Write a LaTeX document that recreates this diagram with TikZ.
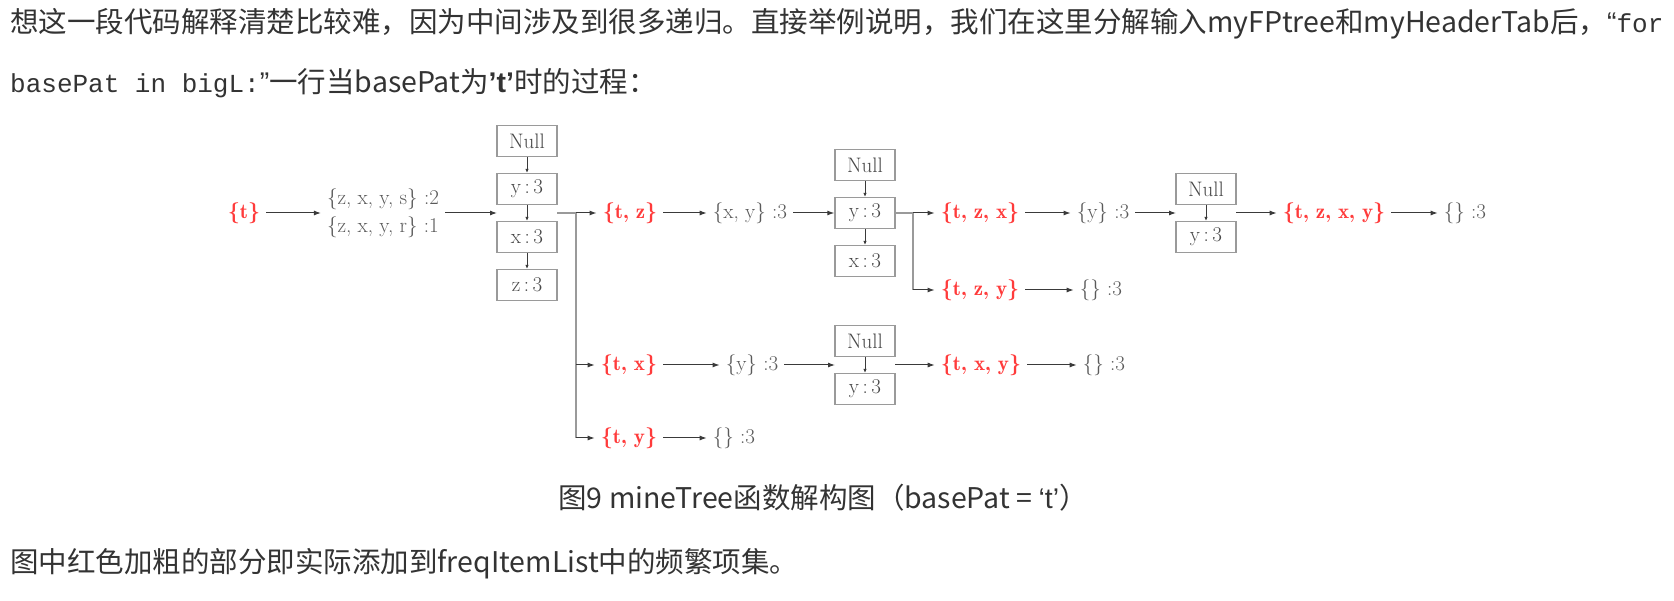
\documentclass[tikz,border=0pt]{standalone}
\usepackage{fontspec}
\usetikzlibrary{arrows.meta}
\newfontfamily\cjk{Noto Sans CJK SC}
\newfontfamily\latin{Liberation Sans}
\newfontfamily\courier{Liberation Mono}
\newfontfamily\demi{lmromandemi10-regular}[Extension=.otf]
\definecolor{corps}{HTML}{333333}
\definecolor{gristexte}{HTML}{5A5A5A}
\definecolor{rougetexte}{HTML}{FF3B3B}
\definecolor{bord}{HTML}{9A9A9A}
\definecolor{trait}{HTML}{3A3A3A}

\begin{document}
\begin{tikzpicture}[x=1pt, y=-1pt, fleche/.style={<-, >={Latex[length=7pt,width=5pt]}, draw=trait, line width=1pt}]
    \tikzset{ensemble/.style={font=\fontsize{21}{24}\selectfont, text=gristexte, inner xsep=6pt, inner ysep=2pt},
             motif/.style={ensemble, font=\demi\fontsize{21}{24}\selectfont, text=rougetexte},
             boite/.style={rectangle, draw=bord, line width=1.3pt, minimum width=60pt, minimum height=31pt, inner sep=0pt, font=\fontsize{21}{24}\selectfont, text=gristexte!80!black},
             descente/.style={fleche, >={Latex[length=4pt,width=3.5pt]}},
             lien/.style={draw=bord, line width=1.5pt},
             phrase/.style={anchor=west, inner sep=0pt, text=corps, font=\cjk\fontsize{28.5}{34}\selectfont}};
    \useasboundingbox (0, 0) rectangle (1674, 601);

    % texte autour de la figure
    \node[phrase] (l1) at (10, 24) {想这一段代码解释清楚比较难，因为中间涉及到很多递归。直接举例说明，我们在这里分解输入myFPtree和myHeaderTab后，{\latin “}{\courier\fontsize{26}{30}\selectfont for}};
    \node[phrase] (l2) at (10, 83) {{\courier\fontsize{26}{30}\selectfont basePat in bigL:}{\latin ”}一行当basePat为{\latin\bfseries ’t’}时的过程：};
    \node[phrase, anchor=center] (legende) at (823, 498) {图9 mineTree函数解构图（basePat = {\latin ‘t’}）};
    \node[phrase] (note) at (10, 564) {图中红色加粗的部分即实际添加到freqItemList中的频繁项集。};

    % premier niveau
    \node[motif] (t) at (244, 213) {\{t\}};
    \node[ensemble, align=left, font=\fontsize{21}{28}\selectfont] (base1) at (383, 213) {\{z, x, y, s\} :2\\\{z, x, y, r\} :1}
        edge[fleche] (t);
    \node[boite] (n1) at (527, 141) {Null};
    \node[boite] (y1) at (527, 189) {y\,:\,3}
        edge[descente] (n1);
    \node[boite] (x1) at (527, 237) {x\,:\,3}
        edge[descente] (y1);
    \node[boite] (z1) at (527, 285) {z\,:\,3}
        edge[descente] (x1);
    \coordinate (e1) at (497, 213);
    \coordinate (s1) at (557, 213);
    \draw[fleche] (e1) -- (base1);

    \coordinate (j1) at (576, 213);
    \coordinate (j1x) at (576, 365);
    \coordinate (j1y) at (576, 438);
    \draw[lien] (s1) -- (j1) -- (j1y);

    % {t, z}
    \node[motif] (tz) at (630, 213) {\{t, z\}}
        edge[fleche] (j1);
    \node[ensemble] (xy) at (750, 213) {\{x, y\} :3}
        edge[fleche] (tz);
    \node[boite] (n2) at (865, 165) {Null};
    \node[boite] (y2) at (865, 213) {y\,:\,3}
        edge[descente] (n2)
        edge[fleche] (xy);
    \node[boite] (x2) at (865, 261) {x\,:\,3}
        edge[descente] (y2);

    \coordinate (j2) at (913, 213);
    \coordinate (j2y) at (913, 290);
    \draw[lien] (y2) -- (j2) -- (j2y);

    \node[motif] (tzx) at (980, 213) {\{t, z, x\}}
        edge[fleche] (j2);
    \node[motif] (tzy) at (980, 290) {\{t, z, y\}}
        edge[fleche] (j2y);
    \node[ensemble] (ys3) at (1103, 213) {\{y\} :3}
        edge[fleche] (tzx);
    \node[ensemble] (vide1) at (1101, 290) {\{\} :3}
        edge[fleche] (tzy);

    \node[boite] (n3) at (1206, 189) {Null};
    \node[boite] (y3) at (1206, 237) {y\,:\,3}
        edge[descente] (n3);
    \coordinate (e3) at (1176, 213);
    \coordinate (s3) at (1236, 213);
    \draw[fleche] (e3) -- (ys3);
    \node[motif] (tzxy) at (1334, 213) {\{t, z, x, y\}};
    \draw[fleche] (tzxy) -- (s3);
    \node[ensemble] (vide2) at (1465, 213) {\{\} :3}
        edge[fleche] (tzxy);

    % {t, x}
    \node[motif] (tx) at (629, 365) {\{t, x\}}
        edge[fleche] (j1x);
    \node[ensemble] (ys4) at (752, 365) {\{y\} :3}
        edge[fleche] (tx);
    \node[boite] (n4) at (865, 341) {Null};
    \node[boite] (y4) at (865, 389) {y\,:\,3}
        edge[descente] (n4);
    \coordinate (e4) at (835, 365);
    \coordinate (s4) at (895, 365);
    \draw[fleche] (e4) -- (ys4);
    \node[motif] (txy) at (981, 365) {\{t, x, y\}};
    \draw[fleche] (txy) -- (s4);
    \node[ensemble] (vide3) at (1104, 365) {\{\} :3}
        edge[fleche] (txy);

    % {t, y}
    \node[motif] (ty) at (629, 438) {\{t, y\}}
        edge[fleche] (j1y);
    \node[ensemble] (vide4) at (734, 438) {\{\} :3}
        edge[fleche] (ty);
\end{tikzpicture}
\end{document}
